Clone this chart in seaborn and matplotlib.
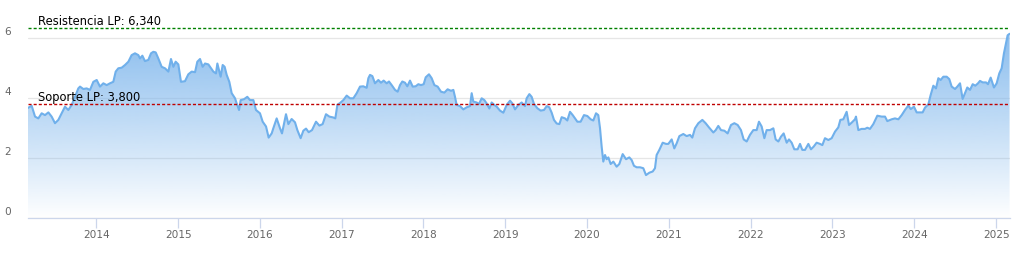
import numpy as np
import pandas as pd
import matplotlib
matplotlib.use("Agg")
import matplotlib.pyplot as plt
import seaborn as sns

# ---------------- data ----------------
dates = [
    2013.165, 2013.21, 2013.251, 2013.291, 2013.332, 2013.373, 2013.414, 2013.454, 2013.495, 2013.536,
    2013.577, 2013.617, 2013.658, 2013.699, 2013.74, 2013.78, 2013.801, 2013.841, 2013.882, 2013.923,
    2013.964, 2014.005, 2014.025, 2014.045, 2014.086, 2014.127, 2014.167, 2014.208, 2014.237, 2014.269,
    2014.31, 2014.351, 2014.392, 2014.432, 2014.473, 2014.514, 2014.534, 2014.563, 2014.595, 2014.636,
    2014.669, 2014.697, 2014.726, 2014.758, 2014.799, 2014.84, 2014.881, 2014.913, 2014.942, 2014.97,
    2015.003, 2015.035, 2015.084, 2015.125, 2015.166, 2015.207,
    2015.235, 2015.268, 2015.3, 2015.329, 2015.37, 2015.398, 2015.431, 2015.463, 2015.48, 2015.504,
    2015.52, 2015.545, 2015.569, 2015.594, 2015.626, 2015.655, 2015.696, 2015.716, 2015.745, 2015.765,
    2015.806, 2015.846, 2015.879, 2015.92, 2015.952, 2016.001, 2016.034, 2016.075, 2016.107, 2016.144,
    2016.164, 2016.205, 2016.246, 2016.27, 2016.319, 2016.348, 2016.388, 2016.429, 2016.458, 2016.498,
    2016.531, 2016.564, 2016.596, 2016.637, 2016.686, 2016.727, 2016.767, 2016.808, 2016.849, 2016.898,
    2016.922, 2016.947, 2016.987, 2017.02, 2017.061, 2017.102, 2017.142, 2017.183, 2017.224,
    2017.264, 2017.305, 2017.326, 2017.346, 2017.375, 2017.407, 2017.448, 2017.48, 2017.513, 2017.55,
    2017.578, 2017.611, 2017.652, 2017.684, 2017.713, 2017.741, 2017.774, 2017.802, 2017.835, 2017.868,
    2017.904, 2017.937, 2017.969, 2018.002, 2018.027, 2018.067, 2018.1, 2018.133, 2018.173, 2018.214,
    2018.255, 2018.295, 2018.336, 2018.365, 2018.385, 2018.405, 2018.446, 2018.487, 2018.528, 2018.568,
    2018.589, 2018.609, 2018.65, 2018.678, 2018.711, 2018.744, 2018.772, 2018.805, 2018.833, 2018.866,
    2018.895, 2018.935, 2018.976, 2019.017, 2019.058, 2019.086, 2019.119, 2019.159, 2019.2, 2019.241,
    2019.261, 2019.294, 2019.322, 2019.351, 2019.392, 2019.432, 2019.473, 2019.506, 2019.538, 2019.567,
    2019.595, 2019.628, 2019.661, 2019.689, 2019.73, 2019.758, 2019.791, 2019.824, 2019.852, 2019.881,
    2019.921, 2019.962, 2020.003, 2020.044, 2020.076, 2020.109, 2020.137, 2020.158, 2020.178, 2020.198,
    2020.219, 2020.239, 2020.26, 2020.288, 2020.321, 2020.361, 2020.394, 2020.435, 2020.476, 2020.516,
    2020.545, 2020.573, 2020.606, 2020.647, 2020.687, 2020.72, 2020.761, 2020.802, 2020.83, 2020.85,
    2020.883, 2020.924, 2020.965, 2020.993, 2021.034, 2021.066, 2021.095, 2021.128, 2021.176, 2021.217,
    2021.258, 2021.286, 2021.319, 2021.36, 2021.409, 2021.449, 2021.49, 2021.543, 2021.572, 2021.604,
    2021.637, 2021.678, 2021.718, 2021.759, 2021.8, 2021.841, 2021.881, 2021.914, 2021.951, 2021.991,
    2022.032, 2022.073, 2022.101, 2022.134, 2022.167, 2022.195, 2022.236, 2022.277, 2022.305, 2022.338,
    2022.37, 2022.403, 2022.44, 2022.468, 2022.501, 2022.533, 2022.574, 2022.603, 2022.631, 2022.664,
    2022.705, 2022.737, 2022.77, 2022.806, 2022.847, 2022.876, 2022.908, 2022.949, 2022.99, 2023.031,
    2023.071, 2023.096, 2023.132, 2023.173, 2023.202, 2023.235, 2023.275, 2023.287, 2023.316, 2023.356,
    2023.397, 2023.426, 2023.458, 2023.499, 2023.548, 2023.601, 2023.642, 2023.67, 2023.723, 2023.764,
    2023.805, 2023.846, 2023.886, 2023.927, 2023.956, 2023.996, 2024.029, 2024.07, 2024.102, 2024.131,
    2024.172, 2024.2, 2024.233, 2024.265, 2024.294, 2024.322, 2024.355, 2024.396, 2024.428, 2024.457,
    2024.498, 2024.526, 2024.559, 2024.591, 2024.62, 2024.648, 2024.681, 2024.714, 2024.746, 2024.779,
    2024.803, 2024.836, 2024.877, 2024.901, 2024.934, 2024.974, 2025.007, 2025.039, 2025.068, 2025.096,
    2025.121, 2025.141, 2025.165,
]
prices = [
    3.68, 3.75, 3.39, 3.33, 3.50, 3.44, 3.53, 3.39, 3.17, 3.28,
    3.50, 3.72, 3.61, 3.78, 4.05, 4.33, 4.39, 4.31, 4.33, 4.28,
    4.55, 4.61, 4.50, 4.39, 4.50, 4.44, 4.50, 4.55, 4.89, 5.00,
    5.02, 5.11, 5.22, 5.44, 5.50, 5.44, 5.33, 5.42, 5.24, 5.28,
    5.50, 5.55, 5.53, 5.33, 5.05, 5.00, 4.89, 5.31, 5.05, 5.22,
    5.13, 4.55, 4.57, 4.80, 4.89, 4.87,
    5.22, 5.31, 5.05, 5.16, 5.13, 5.02, 4.89, 4.83, 5.16, 4.89,
    4.72, 5.11, 5.05, 4.78, 4.55, 4.17, 4.00, 3.83, 3.61, 3.94,
    3.97, 4.05, 3.94, 3.94, 3.61, 3.50, 3.22, 3.06, 2.69, 2.83,
    3.00, 3.33, 3.00, 2.83, 3.47, 3.14, 3.31, 3.20, 2.94, 2.67,
    2.92, 2.99, 2.87, 2.94, 3.22, 3.09, 3.14, 3.47, 3.39, 3.36,
    3.33, 3.78, 3.86, 3.94, 4.09, 4.00, 4.00, 4.17, 4.39,
    4.40, 4.35, 4.67, 4.78, 4.74, 4.50, 4.61, 4.52, 4.59, 4.50,
    4.56, 4.44, 4.28, 4.22, 4.44, 4.56, 4.52, 4.40, 4.59, 4.39,
    4.40, 4.47, 4.44, 4.47, 4.70, 4.80, 4.67, 4.44, 4.39, 4.22,
    4.19, 4.30, 4.25, 4.28, 4.05, 3.78, 3.74, 3.63, 3.70, 3.74,
    4.17, 3.89, 3.86, 3.81, 4.00, 3.94, 3.83, 3.66, 3.86, 3.78,
    3.72, 3.59, 3.52, 3.78, 3.92, 3.83, 3.63, 3.78, 3.86, 3.74,
    4.00, 4.14, 4.05, 3.81, 3.67, 3.59, 3.61, 3.74, 3.70, 3.52,
    3.28, 3.16, 3.14, 3.37, 3.33, 3.26, 3.55, 3.44, 3.33, 3.22,
    3.22, 3.44, 3.41, 3.30, 3.26, 3.50, 3.44, 3.00, 2.39, 1.89,
    2.11, 1.97, 2.03, 1.81, 1.89, 1.72, 1.81, 2.14, 1.97, 2.03,
    1.94, 1.75, 1.70, 1.70, 1.67, 1.44, 1.52, 1.56, 1.67, 2.11,
    2.28, 2.52, 2.48, 2.48, 2.63, 2.33, 2.50, 2.74, 2.81, 2.74,
    2.78, 2.69, 3.00, 3.17, 3.28, 3.17, 3.03, 2.86, 2.94, 3.08,
    2.94, 2.92, 2.83, 3.11, 3.17, 3.11, 2.94, 2.63, 2.56, 2.78,
    2.94, 2.94, 3.22, 3.06, 2.67, 2.94, 2.94, 3.00, 2.63, 2.56,
    2.72, 2.83, 2.52, 2.63, 2.52, 2.30, 2.30, 2.48, 2.28, 2.28,
    2.48, 2.30, 2.39, 2.52, 2.48, 2.44, 2.67, 2.61, 2.67, 2.89,
    3.03, 3.28, 3.30, 3.55, 3.11, 3.19, 3.30, 3.39, 2.94, 2.98,
    2.98, 3.02, 2.98, 3.14, 3.42, 3.39, 3.39, 3.24, 3.30, 3.33,
    3.30, 3.44, 3.61, 3.76, 3.64, 3.72, 3.53, 3.53, 3.53, 3.69,
    3.80, 4.11, 4.42, 4.33, 4.67, 4.61, 4.72, 4.72, 4.64, 4.39,
    4.31, 4.39, 4.50, 3.98, 4.17, 4.36, 4.28, 4.47, 4.42, 4.50,
    4.58, 4.53, 4.53, 4.47, 4.69, 4.36, 4.50, 4.83, 5.00, 5.50,
    5.83, 6.10, 6.15,
]
year_ticks = list(range(2014, 2026))
y_ticks = [0, 2, 4, 6]
resistance = 6.34
support = 3.80
resistance_label = "Resistencia LP: 6,340"
support_label = "Soporte LP: 3,800"

# ---------------- style ----------------
sns.set_theme(style="white")
plt.rcParams['font.family'] = ['DejaVu Sans']

W, H = 1015, 256
fig = plt.figure(figsize=(W / 100, H / 100), dpi=100)
ax = fig.add_axes([28 / W, (H - 218.3) / H, 982 / W, 210 / H])

df = pd.DataFrame({"year": dates, "price": prices})
x0, x1 = 2013.165, 2025.17
y0, y1 = 0, 7
ax.set_xlim(x0, x1)
ax.set_ylim(y0, y1)

# gradient area fill clipped to the area under the series
poly = ax.fill_between(df["year"], 0, df["price"], facecolor="none", edgecolor="none")
base = np.array([124, 181, 236]) / 255.0
n = 256
img = np.zeros((n, 1, 4))
img[:, 0, :3] = base
img[:, 0, 3] = np.linspace(1.0, 0.0, n) ** 0.95
im = ax.imshow(img, extent=[x0, x1, y0, y1], origin="upper", aspect="auto",
               interpolation="bilinear", zorder=1)
im.set_clip_path(poly.get_paths()[0], transform=ax.transData)

sns.lineplot(data=df, x="year", y="price", ax=ax, color="#70b0eb",
             linewidth=1.5, zorder=3)

# grid and axes
ax.set_axisbelow(True)
ax.set_yticks(y_ticks)
ax.grid(axis="y", color="#e6e6e6", linewidth=0.9)
ax.grid(axis="x", visible=False)
for s in ["top", "right", "left"]:
    ax.spines[s].set_visible(False)
ax.spines["bottom"].set_color("#ccd6eb")
ax.spines["bottom"].set_linewidth(0.9)
ax.spines["bottom"].set_zorder(5)

ax.set_xticks(year_ticks)
ax.set_xticklabels([str(y) for y in year_ticks])
ax.tick_params(axis="x", bottom=True, length=7.2, width=0.9, color="#ccd6eb",
               pad=1.2, labelsize=7.6, labelcolor="#666666", direction="out")
ax.tick_params(axis="y", left=False, labelleft=False)
for v in y_ticks:
    ax.annotate(str(v), xy=(0, v), xycoords=("axes fraction", "data"),
                xytext=(-12.2, 4.3), textcoords="offset points",
                ha="right", va="center", fontsize=7.6, color="#666666")
ax.set_xlabel("")
ax.set_ylabel("")

# reference lines
ax.axhline(resistance, color="#008000", linewidth=1.0, linestyle=(0, (2.2, 1.5)), zorder=4)
ax.axhline(support, color="#c00000", linewidth=1.0, linestyle=(0, (2.2, 1.5)), zorder=4)
ax.annotate(resistance_label, xy=(0, resistance), xycoords=("axes fraction", "data"),
            xytext=(7.2, 2.4), textcoords="offset points", ha="left", va="baseline",
            fontsize=8.3, color="#000000", zorder=6)
ax.annotate(support_label, xy=(0, support), xycoords=("axes fraction", "data"),
            xytext=(7.2, 2.4), textcoords="offset points", ha="left", va="baseline",
            fontsize=8.3, color="#000000", zorder=6)

fig.savefig("out.png", dpi=100)
